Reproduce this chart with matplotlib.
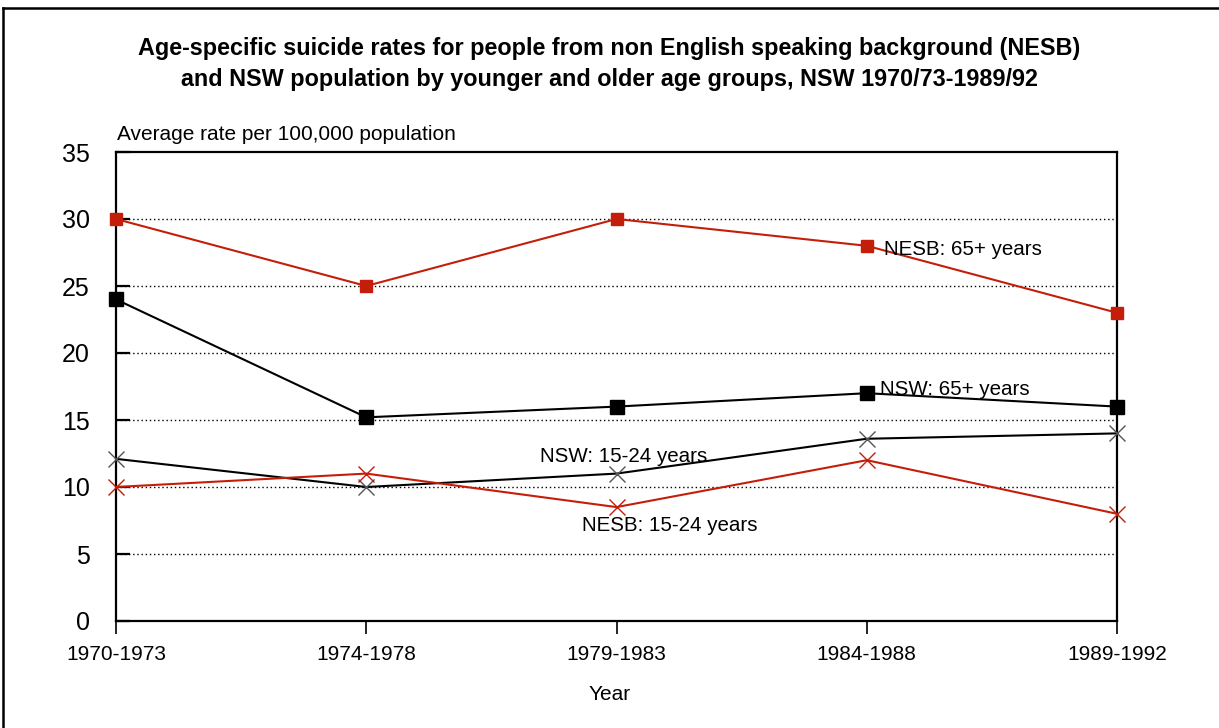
import matplotlib
matplotlib.use("Agg")
import matplotlib.pyplot as plt
from matplotlib.lines import Line2D

plt.rcParams['font.family'] = ['Liberation Sans', 'DejaVu Sans']

periods = ["1970-1973", "1974-1978", "1979-1983", "1984-1988", "1989-1992"]
nesb_65 = [30, 25, 30, 28, 23]
nsw_65 = [24, 15.2, 16, 17, 16]
nsw_15_24 = [12.1, 10, 11, 13.6, 14]
nesb_15_24 = [10, 11, 8.5, 12, 8]

yticks = [0, 5, 10, 15, 20, 25, 30, 35]

RED = '#C41E0A'
W, H = 1219, 728
fig = plt.figure(figsize=(W / 100, H / 100), dpi=100)

# outer frame (top and left edges)
fig.add_artist(Line2D([3 / W, 1], [1 - 8 / H, 1 - 8 / H], color='black', lw=1.8,
                      transform=fig.transFigure))
fig.add_artist(Line2D([3 / W, 3 / W], [0, 1 - 8 / H], color='black', lw=1.8,
                      transform=fig.transFigure))

ax = fig.add_axes([116 / W, 1 - 621 / H, (1117 - 116) / W, (621 - 152) / H])
x = list(range(len(periods)))

ax.plot(x, nesb_65, color=RED, lw=1.5, marker='s', ms=9, mec=RED, mfc=RED, clip_on=False, zorder=5)
ax.plot(x, nsw_65, color='black', lw=1.5, marker='s', ms=10, mec='black', mfc='black', clip_on=False, zorder=5)
ax.plot(x, nsw_15_24, color='black', lw=1.5, marker='x', ms=11, mew=1.0, mec='#555555', clip_on=False, zorder=5)
ax.plot(x, nesb_15_24, color=RED, lw=1.5, marker='x', ms=11, mew=1.0, mec=RED, clip_on=False, zorder=5)

ax.set_xlim(0, len(periods) - 1)
ax.set_ylim(0, 35)
ax.set_xticks(x)
ax.set_xticklabels(periods, fontsize=15)
ax.set_yticks(yticks)
ax.set_yticklabels([str(v) for v in yticks], fontsize=18)
ax.tick_params(axis='y', direction='in', length=10, width=1.6, pad=19)
ax.tick_params(axis='x', direction='out', length=9, width=1.2, pad=8)

for v in yticks[1:-1]:
    ax.axhline(v, color='black', lw=1.0, ls=(0, (1, 2)), zorder=1)

for s in ax.spines.values():
    s.set_linewidth(1.6)
    s.set_color('black')

ax.text(3.069, 27.76, "NESB: 65+ years", fontsize=14.8, va='center', ha='left', zorder=6)
ax.text(3.053, 17.24, "NSW: 65+ years", fontsize=14.8, va='center', ha='left', zorder=6)
ax.text(1.694, 12.24, "NSW: 15-24 years", fontsize=14.8, va='center', ha='left', zorder=6)
ax.text(1.862, 7.09, "NESB: 15-24 years", fontsize=14.8, va='center', ha='left', zorder=6)

fig.text(117 / W, 1 - 134 / H, "Average rate per 100,000 population", fontsize=15,
         ha='left', va='center')
fig.text(610 / W, 1 - 694 / H, "Year", fontsize=15, ha='center', va='center')
fig.text(609 / W, 1 - 64 / H,
         "Age-specific suicide rates for people from non English speaking background (NESB)\n"
         "and NSW population by younger and older age groups, NSW 1970/73-1989/92",
         fontsize=16.8, fontweight='bold', ha='center', va='center', linespacing=1.4)

fig.savefig("out.png", dpi=100)
